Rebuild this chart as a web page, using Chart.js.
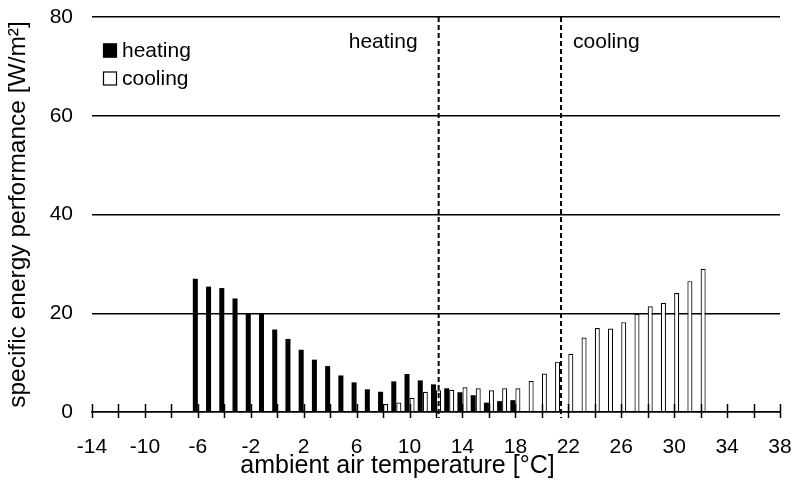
<!DOCTYPE html>
<html><head><meta charset="utf-8">
<script src="https://cdn.jsdelivr.net/npm/chart.js@4/dist/chart.umd.min.js"></script>
<style>html,body{margin:0;padding:0;background:#fff}</style>
</head><body>
<canvas id="c" width="795" height="493"></canvas>
<script>
// ---- data ----
const heatingTemps  = [-6,-5,-4,-3,-2,-1,0,1,2,3,4,5,6,7,8,9,10,11,12,13,14,15,16,17,18];
const heatingValues = [27.0,25.4,25.1,23.0,20.0,20.0,16.7,14.8,12.6,10.6,9.3,7.4,6.0,4.6,4.1,6.2,7.7,6.4,5.6,4.8,4.0,3.4,1.9,2.2,2.4];
const coolingTemps  = [8,9,10,11,12,13,14,15,16,17,18,19,20,21,22,23,24,25,26,27,28,29,30,31,32];
const coolingValues = [1.6,1.9,2.9,4.1,4.4,4.5,5.0,4.8,4.4,4.8,4.8,6.3,7.8,10.2,11.8,15.1,17.0,16.9,18.2,19.9,21.4,22.1,24.1,26.5,29.0];
const seriesNames   = ['heating','cooling'];
const xMin = -14, xMax = 38, xTickStep = 2, xLabelStep = 4;
const yMin = 0, yMax = 80, yTickStep = 20;
const dividerTemps  = [12.2, 21.45];
const regionLabels  = ['heating','cooling'];
const xTitle = 'ambient air temperature [°C]';
const yTitle = 'specific energy performance [W/m²]';

const FONT = '"Liberation Sans", Arial, Helvetica, sans-serif';
const FS = 21;

const crossTicks = {
  id: 'crossTicks',
  afterDatasetsDraw(chart) {
    const x = chart.scales.x, ctx = chart.ctx, b = chart.chartArea.bottom;
    ctx.save();
    ctx.strokeStyle = '#000'; ctx.lineWidth = 1.5;
    x.ticks.forEach(t => {
      const px = Math.round(x.getPixelForValue(t.value)) + 0.5;
      ctx.beginPath(); ctx.moveTo(px, b - 8); ctx.lineTo(px, b + 6); ctx.stroke();
    });
    ctx.restore();
  }
};

const dividers = {
  id: 'dividers',
  afterDatasetsDraw(chart) {
    const x = chart.scales.x, ctx = chart.ctx, a = chart.chartArea;
    ctx.save();
    ctx.strokeStyle = '#000'; ctx.lineWidth = 2; ctx.setLineDash([5,3]);
    const px = dividerTemps.map(v => x.getPixelForValue(v));
    px.forEach(p => { ctx.beginPath(); ctx.moveTo(p, a.top); ctx.lineTo(p, a.bottom + 6); ctx.stroke(); });
    ctx.setLineDash([]);
    ctx.fillStyle = '#000'; ctx.font = FS + 'px ' + FONT; ctx.textBaseline = 'middle';
    ctx.textAlign = 'right'; ctx.fillText(regionLabels[0], px[0] - 21, a.top + 25);
    ctx.textAlign = 'left';  ctx.fillText(regionLabels[1], px[1] + 12, a.top + 25);
    ctx.restore();
  }
};

const insideLegend = {
  id: 'insideLegend',
  afterDraw(chart) {
    const ctx = chart.ctx, a = chart.chartArea;
    ctx.save();
    ctx.font = FS + 'px ' + FONT; ctx.textBaseline = 'middle'; ctx.textAlign = 'left';
    chart.data.datasets.forEach((ds, i) => {
      const y = a.top + 33.5 + i * 28;
      const x = a.left + 11;
      ctx.fillStyle = ds.backgroundColor; ctx.fillRect(x, y - 7, 14, 14);
      ctx.strokeStyle = '#000'; ctx.lineWidth = 1.2; ctx.strokeRect(x + 0.5, y - 6.5, 13, 13);
      ctx.fillStyle = '#000'; ctx.fillText(ds.label, x + 19, y + 1);
    });
    ctx.restore();
  }
};

new Chart(document.getElementById('c'), {
  type: 'bar',
  data: {
    datasets: [
      { label: seriesNames[0], data: heatingTemps.map((t,i)=>({x:t,y:heatingValues[i]})),
        backgroundColor: '#000', borderColor: '#000', borderWidth: 0 },
      { label: seriesNames[1], data: coolingTemps.map((t,i)=>({x:t,y:coolingValues[i]})),
        backgroundColor: '#fff', borderColor: '#000', borderWidth: 1.2, borderSkipped: 'start' }
    ]
  },
  options: {
    responsive: false, animation: false, devicePixelRatio: 1,
    categoryPercentage: 0.76, barPercentage: 1.0,
    layout: { padding: { left: 0, right: 0, top: 17, bottom: 0 } },
    plugins: {
      legend: { display: false }, tooltip: { enabled: false },
      title: { display: true, text: xTitle, position: 'bottom', color: '#000',
        font: { family: FONT, size: 25, weight: 'normal', lineHeight: 1 }, padding: { top: 0, bottom: 14 } }
    },
    scales: {
      x: {
        type: 'linear', min: xMin, max: xMax, offset: false,
        grid: { display: false, offset: false },
        border: { display: true, color: '#000', width: 1.5 },
        ticks: { stepSize: xTickStep, autoSkip: false, maxRotation: 0, padding: 15, color: '#000',
          font: { family: FONT, size: FS },
          callback: v => ((v - xMin) % xLabelStep === 0 ? String(v) : '') },
        afterFit: s => { s.height = 42; s.paddingLeft = 0; s.paddingRight = 15; }
      },
      y: {
        min: yMin, max: yMax,
        grid: { color: '#000', lineWidth: 1.5, drawTicks: false },
        border: { display: false },
        ticks: { stepSize: yTickStep, padding: 19, color: '#000', font: { family: FONT, size: FS } },
        title: { display: true, text: yTitle, color: '#000', font: { family: FONT, size: 24.5 }, padding: { top: 4, bottom: 0 } },
        afterFit: s => { s.width = 92; s.paddingTop = 0; s.paddingBottom = 0; }
      }
    }
  },
  plugins: [crossTicks, dividers, insideLegend]
});
</script>
</body></html>
